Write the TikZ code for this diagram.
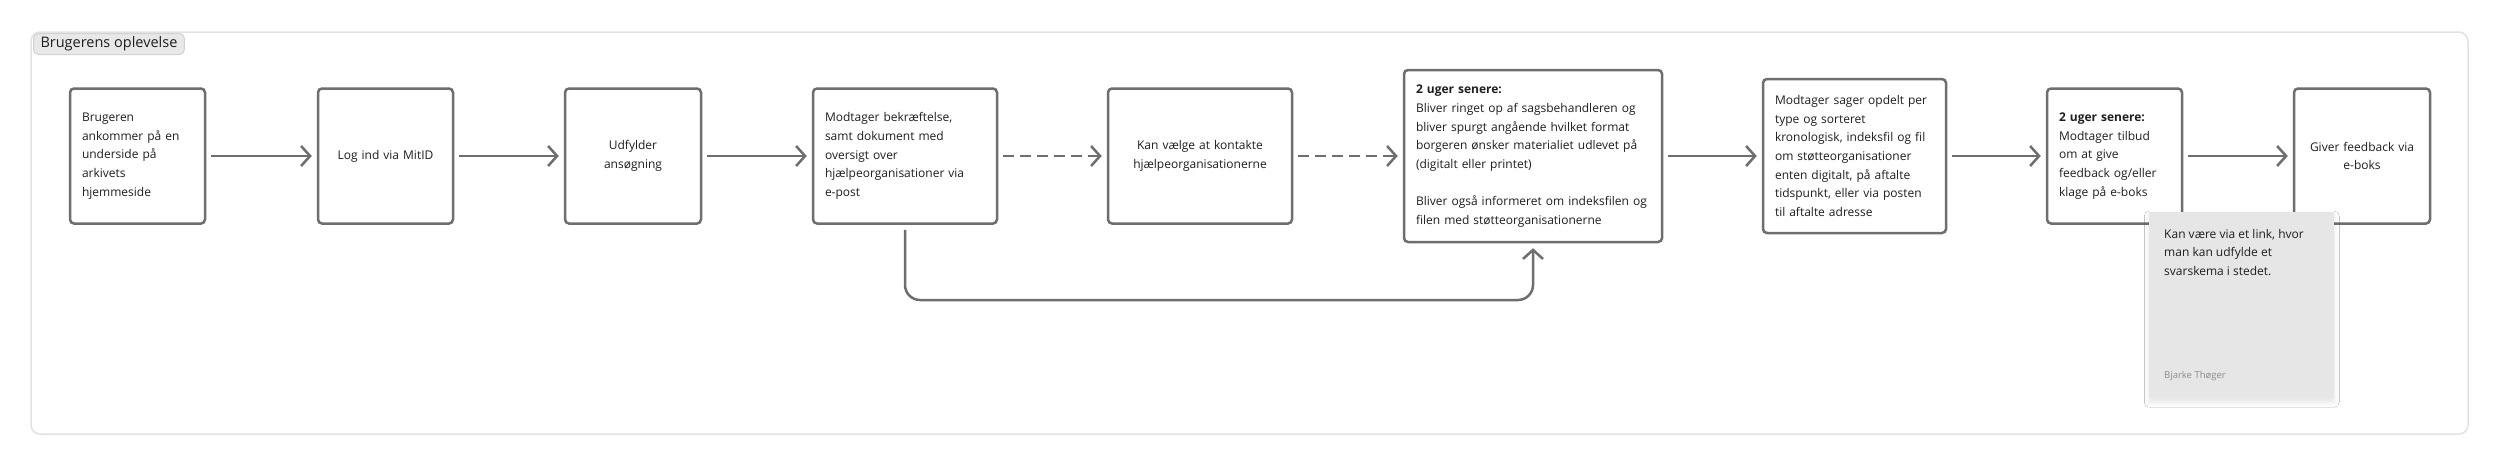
\documentclass[tikz,border=0pt]{standalone}
\usepackage{fontspec}
\setmainfont{Open Sans}
\usetikzlibrary{arrows.meta,shadows.blur}
\definecolor{boxgray}{HTML}{6E6E6E}
\definecolor{txt}{HTML}{1E1E1E}
\definecolor{framegray}{HTML}{E2E2E2}
\definecolor{tabfill}{HTML}{E8E8E8}
\definecolor{tabdraw}{HTML}{D2D2D2}
\definecolor{stickyfill}{HTML}{E6E6E6}
\definecolor{authorgray}{HTML}{8C8C8C}
\tikzset{
  frame/.style={draw=framegray, line width=1.5pt, rounded corners=9pt, fill=white},
  tab/.style={draw=tabdraw, line width=1pt, rounded corners=5pt, fill=tabfill, text=txt,
    inner xsep=7pt, inner ysep=0pt, font=\fontsize{14.5}{16}\selectfont},
  stepbox/.style={draw=boxgray, line width=2.5pt, rounded corners=4pt, fill=white,
    inner xsep=12pt, inner ysep=0pt, text=txt, font=\fontsize{12}{18.6}\selectfont},
  flow/.style={draw=boxgray, line width=2.5pt, -{Straight Barb[length=9pt,width=20pt]},
    shorten <=5pt, shorten >=5pt},
  dashflow/.style={flow, dash pattern=on 11pt off 6pt},
  sticky/.style={fill=stickyfill, draw=none, inner sep=0pt,
    blur shadow={shadow xshift=0pt, shadow yshift=-4pt, shadow blur radius=5pt, shadow opacity=10}},
  notetext/.style={inner sep=0pt, text=txt, align=left, font=\fontsize{12}{18.6}\selectfont},
  author/.style={inner sep=0pt, text=authorgray, font=\fontsize{9.5}{11}\selectfont},
}
\begin{document}
\begin{tikzpicture}[x=1pt,y=-1pt]
\useasboundingbox (0,0) rectangle (2500,466);
\node[frame, minimum width=2437pt, minimum height=402pt] (frame) at (1249.5,233) {};
\node[tab, anchor=north west, minimum height=21pt] (title) at (33,33) {Brugerens oplevelse};

\node[stepbox, align=left, text width=111pt, minimum height=135pt] (b1) at (137.5,156) {Brugeren\\ankommer på en\\underside på\\arkivets\\hjemmeside};
\node[stepbox, align=center, text width=111pt, minimum height=135pt] (b2) at (385.5,156) {Log ind via MitID};
\node[stepbox, align=center, text width=112pt, minimum height=135pt] (b3) at (633,156) {Udfylder\\ansøgning};
\node[stepbox, align=left, text width=160pt, minimum height=135pt] (b4) at (905,156) {Modtager bekræftelse,\\samt dokument med\\oversigt over\\hjælpeorganisationer via\\e-post};
\node[stepbox, align=center, text width=160pt, minimum height=135pt] (b5) at (1200,156) {Kan vælge at kontakte\\hjælpeorganisationerne};
\node[stepbox, align=left, text width=234pt, minimum height=172pt] (b6) at (1533,156) {\textbf{2 uger senere:}\\Bliver ringet op af sagsbehandleren og\\bliver spurgt angående hvilket format\\borgeren ønsker materialiet udlevet på\\(digitalt eller printet)\\[18.6pt]Bliver også informeret om indeksfilen og\\filen med støtteorganisationerne};
\node[stepbox, align=left, text width=159pt, minimum height=154pt] (b7) at (1854.5,156) {Modtager sager opdelt per\\type og sorteret\\kronologisk, indeksfil og fil\\om støtteorganisationer\\enten digitalt, på aftalte\\tidspunkt, eller via posten\\til aftalte adresse};
\node[stepbox, align=left, text width=111pt, minimum height=135pt] (b8) at (2114.5,156) {\textbf{2 uger senere:}\\Modtager tilbud\\om at give\\feedback og/eller\\klage på e-boks};
\node[stepbox, align=center, text width=112pt, minimum height=135pt] (b9) at (2362,156) {Giver feedback via\\e-boks};

\draw[flow] (b1) -- (b2);
\draw[flow] (b2) -- (b3);
\draw[flow] (b3) -- (b4);
\draw[dashflow] (b4) -- (b5);
\draw[dashflow] (b5) -- (b6);
\draw[flow] (b6) -- (b7);
\draw[flow] (b7) -- (b8);
\draw[flow] (b8) -- (b9);
\coordinate (low) at (0,300);
\draw[flow, rounded corners=15pt] (b4.south) -- (b4.south |- low) -| (b6.south);

\node[sticky, anchor=north west, minimum width=185pt, minimum height=186pt] (note) at (2149,212) {};
\node[notetext, anchor=north west] (notetxt) at (2164,229) {Kan være via et link, hvor\\man kan udfylde et\\svarskema i stedet.};
\node[author, anchor=west] (noteauthor) at (2164,376) {Bjarke Thøger};
\end{tikzpicture}
\end{document}
